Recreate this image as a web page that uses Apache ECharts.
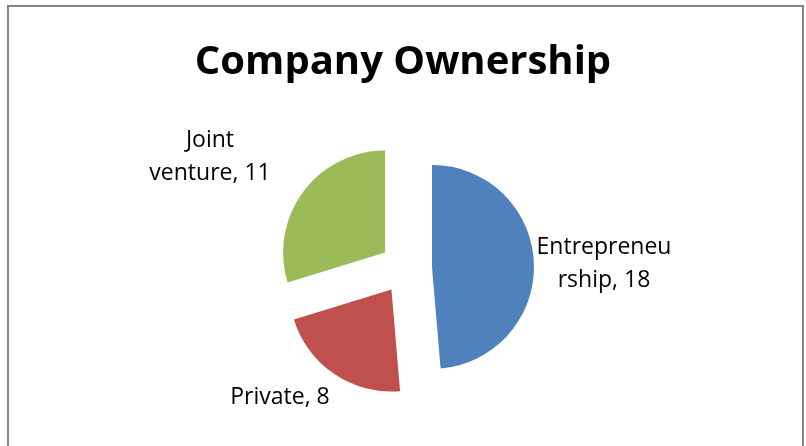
<!DOCTYPE html>
<html>
<head>
<meta charset="utf-8">
<script src="https://cdn.jsdelivr.net/npm/echarts@6/dist/echarts.min.js"></script>
<style>
  html, body { margin: 0; padding: 0; background: #fff; }
  #chart { width: 806px; height: 446px; }
</style>
</head>
<body>
<div id="chart"></div>
<script>
// Ownership categories and company counts
const categories = ['Entrepreneurship', 'Private', 'Joint venture'];
const counts = [18, 8, 11];
const colors = ['#4F81BD', '#C0504D', '#9BBB59'];

const PIE_CENTER = [406, 268];
const PIE_RADIUS = 102;
const EXPLODE = 26;
const LABEL_FONT = '23px "Open Sans"';
const LABEL_WRAP = 139;

// Centre point of each label block
const labelAnchors = [[604, 264], [280, 397.5], [210, 157]];

// Shift applied to each exploded slice (and its label) along its mid-angle
const total = counts.reduce((a, b) => a + b, 0);
let acc = 0;
const sliceShift = counts.map(v => {
  const mid = (acc + v / 2) / total * 2 * Math.PI;
  acc += v;
  return [EXPLODE * Math.sin(mid), -EXPLODE * Math.cos(mid)];
});

// Greedy word wrap; a word wider than the line is split by characters
const measureCtx = document.createElement('canvas').getContext('2d');
measureCtx.font = LABEL_FONT;
function wrapText(text, maxWidth) {
  const fits = s => measureCtx.measureText(s).width <= maxWidth;
  const lines = [];
  let line = '';
  const flushLong = () => {
    while (!fits(line)) {
      let n = line.length - 1;
      while (n > 1 && !fits(line.slice(0, n))) n--;
      lines.push(line.slice(0, n));
      line = line.slice(n);
    }
  };
  text.split(' ').forEach(word => {
    const candidate = line ? line + ' ' + word : word;
    if (fits(candidate)) {
      line = candidate;
    } else {
      if (line) lines.push(line);
      line = word;
      flushLong();
    }
  });
  if (line) lines.push(line);
  return lines.join('\n');
}

const chart = echarts.init(document.getElementById('chart'), null, { renderer: 'canvas' });

chart.setOption({
  animation: false,
  backgroundColor: '#fff',
  title: {
    text: 'Company Ownership',
    left: 'center',
    top: 38,
    textStyle: {
      fontFamily: 'Open Sans',
      fontWeight: 'bold',
      fontSize: 40,
      color: '#000'
    }
  },
  graphic: [{
    type: 'rect',
    shape: { x: 8, y: 6, width: 795, height: 470 },
    style: { fill: 'none', stroke: '#868686', lineWidth: 2 },
    silent: true
  }],
  series: [{
    type: 'pie',
    center: PIE_CENTER,
    radius: PIE_RADIUS,
    startAngle: 90,
    clockwise: true,
    selectedMode: 'multiple',
    selectedOffset: EXPLODE,
    emphasis: { disabled: true },
    label: {
      show: true,
      position: 'outside',
      formatter: p => wrapText(p.name + ', ' + p.value, LABEL_WRAP),
      fontFamily: 'Open Sans',
      fontSize: 23,
      color: '#000',
      lineHeight: 33
    },
    labelLine: { show: false },
    labelLayout: function (params) {
      const i = params.dataIndex;
      const a = labelAnchors[i];
      const r = params.labelRect;
      const s = sliceShift[i];
      // outside labels are anchored at their inner edge
      const onRight = r.x + r.width / 2 > PIE_CENTER[0];
      const anchorX = onRight ? r.x : r.x + r.width;
      return {
        dx: a[0] - anchorX - s[0],
        dy: a[1] - (r.y + r.height / 2) - s[1],
        align: 'center',
        verticalAlign: 'middle',
        hideOverlap: false,
        moveOverlap: null
      };
    },
    data: categories.map((name, i) => ({
      name: name,
      value: counts[i],
      selected: true,
      itemStyle: { color: colors[i] }
    }))
  }]
});
</script>
</body>
</html>
